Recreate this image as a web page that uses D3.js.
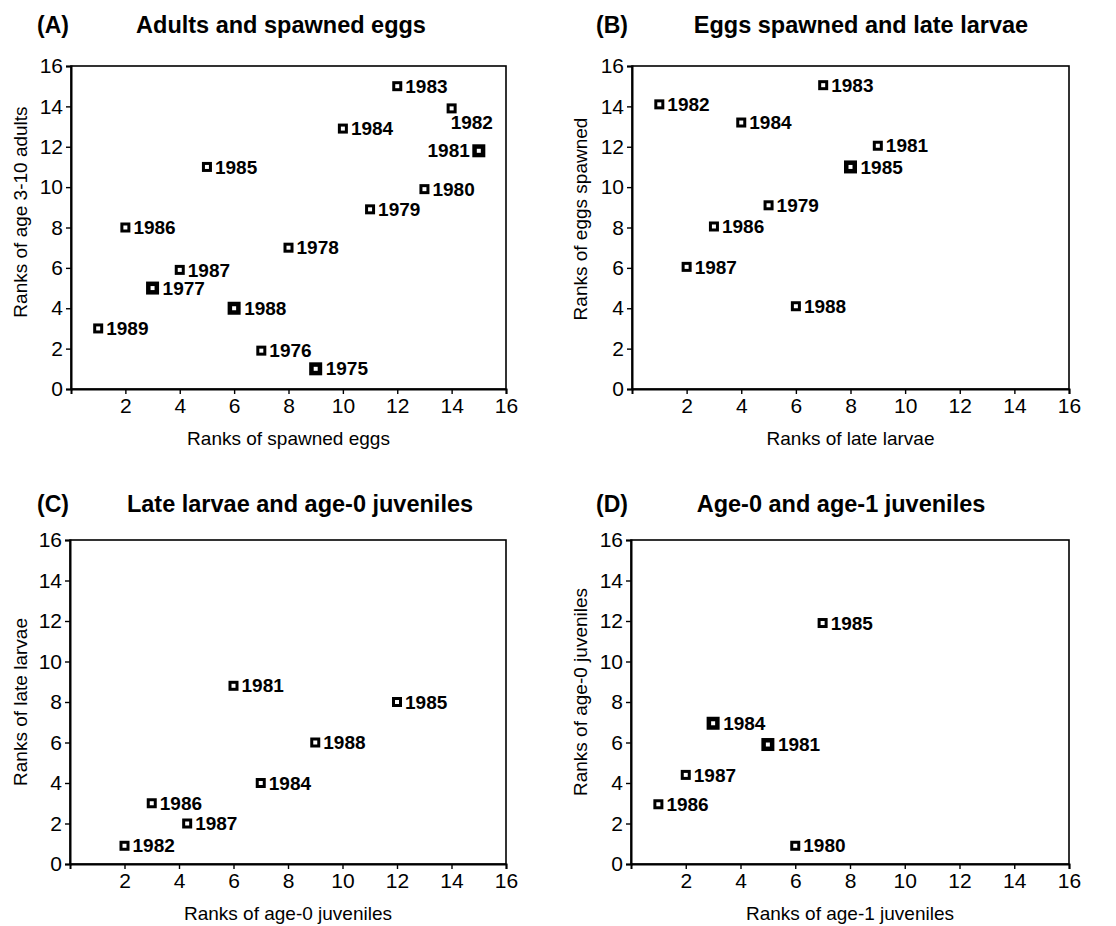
<!DOCTYPE html>
<html>
<head>
<meta charset="utf-8">
<script src="https://cdn.jsdelivr.net/npm/d3@7"></script>
<style>
  html, body { margin: 0; padding: 0; background: #fff; }
  svg { display: block; }
</style>
</head>
<body>
<svg id="chart" width="1116" height="926"></svg>
<script>
// ---------------- DATA ----------------
// Panel A: Adults and spawned eggs
const yearsA = [1983, 1982, 1984, 1981, 1985, 1980, 1979, 1986, 1978, 1987, 1977, 1988, 1989, 1976, 1975];
const xA     = [12,   14,   10,   15,   5,    13,   11,   2,    8,    4,    3,    6,    1,    7,    9];
const yA     = [15,   13.9, 12.9, 11.8, 11,   9.9,  8.9,  8,    7,    5.9,  5,    4,    3,    1.9,  1];

// Panel B: Eggs spawned and late larvae
const yearsB = [1982, 1983, 1984, 1981, 1985, 1979, 1986, 1987, 1988];
const xB     = [1,    7,    4,    9,    8,    5,    3,    2,    6];
const yB     = [14.1, 15.05, 13.2, 12.05, 11,  9.1,  8.05, 6.05, 4.1];

// Panel C: Late larvae and age-0 juveniles
const yearsC = [1981, 1985, 1988, 1984, 1986, 1987, 1982];
const xC     = [6,    12,   9,    7,    3,    4.3,  2];
const yC     = [8.8,  8,    6,    4,    3,    2,    0.9];

// Panel D: Age-0 and age-1 juveniles
const yearsD = [1985, 1984, 1981, 1987, 1986, 1980];
const xD     = [7,    3,    5,    2,    1,    6];
const yD     = [11.9, 6.95, 5.9,  4.4,  2.95, 0.9];

const yTicks = [0, 2, 4, 6, 8, 10, 12, 14, 16];
const xTicks = [2, 4, 6, 8, 10, 12, 14, 16];

const letters = ["(A)", "(B)", "(C)", "(D)"];
const titles  = ["Adults and spawned eggs", "Eggs spawned and late larvae",
                 "Late larvae and age-0 juveniles", "Age-0 and age-1 juveniles"];
const xLabels = ["Ranks of spawned eggs", "Ranks of late larvae",
                 "Ranks of age-0 juveniles", "Ranks of age-1 juveniles"];
const yLabels = ["Ranks of age 3-10 adults", "Ranks of eggs spawned",
                 "Ranks of late larvae", "Ranks of age-0 juveniles"];

// markers drawn heavier in the original
const heavy = [[1977, 1988, 1975, 1981], [1985], [], [1984, 1981]];
// label placement exceptions
const labelSide = [{1982: "below", 1981: "left"}, {}, {}, {}];

// ---------------- LAYOUT ----------------
const layout = [
  {left: 71,  right: 506,  top: 66,  bottom: 389, letterX: 37,  titleCX: 281, titleY: 33,  yLabX: 20,  yLabCY: 212},
  {left: 632, right: 1069, top: 66,  bottom: 389, letterX: 596, titleCX: 861, titleY: 33,  yLabX: 580, yLabCY: 219},
  {left: 70,  right: 506,  top: 540, bottom: 864, letterX: 37,  titleCX: 300, titleY: 512, yLabX: 20,  yLabCY: 702},
  {left: 631, right: 1069, top: 540, bottom: 864, letterX: 596, titleCX: 841, titleY: 512, yLabX: 580, yLabCY: 692}
];

const FONT = "'Liberation Sans', Arial, Helvetica, sans-serif";
const panelsData = [
  {years: yearsA, xs: xA, ys: yA},
  {years: yearsB, xs: xB, ys: yB},
  {years: yearsC, xs: xC, ys: yC},
  {years: yearsD, xs: xD, ys: yD}
];

const svg = d3.select("#chart");
svg.append("rect").attr("width", 1116).attr("height", 926).attr("fill", "#fff");

panelsData.forEach((pd, i) => {
  const L = layout[i];
  const g = svg.append("g");
  const x = d3.scaleLinear().domain([0, 16]).range([L.left, L.right]);
  const y = d3.scaleLinear().domain([0, 16]).range([L.bottom, L.top]);

  // Title
  g.append("text").attr("x", L.letterX).attr("y", L.titleY)
    .attr("font-family", FONT).attr("font-weight", "bold").attr("font-size", 23)
    .text(letters[i]);
  g.append("text").attr("x", L.titleCX).attr("y", L.titleY)
    .attr("text-anchor", "middle")
    .attr("font-family", FONT).attr("font-weight", "bold").attr("font-size", 23.5)
    .text(titles[i]);

  // Frame
  g.append("rect")
    .attr("x", L.left).attr("y", L.top)
    .attr("width", L.right - L.left).attr("height", L.bottom - L.top)
    .attr("fill", "none").attr("stroke", "#000").attr("stroke-width", 1.6);

  // Axes
  const yAxis = g.append("g").attr("transform", `translate(${L.left},0)`)
    .call(d3.axisLeft(y).tickValues(yTicks).tickSize(5).tickPadding(3).tickFormat(d3.format("d")));
  const xAxis = g.append("g").attr("transform", `translate(0,${L.bottom})`)
    .call(d3.axisBottom(x).tickValues(xTicks).tickSize(5).tickPadding(4).tickFormat(d3.format("d")));
  [yAxis, xAxis].forEach(a => {
    a.select(".domain").attr("stroke", "#000").attr("stroke-width", 2);
    a.selectAll(".tick line").attr("stroke", "#000").attr("stroke-width", 1.4);
    a.selectAll(".tick text").attr("fill", "#000")
      .attr("font-family", FONT).attr("font-size", 21);
  });

  // Axis labels
  g.append("text")
    .attr("x", (L.left + L.right) / 2).attr("y", L.bottom + 56)
    .attr("text-anchor", "middle")
    .attr("font-family", FONT).attr("font-size", 19)
    .text(xLabels[i]);
  g.append("text")
    .attr("transform", `translate(${L.yLabX},${L.yLabCY}) rotate(-90)`)
    .attr("text-anchor", "middle").attr("dy", "0.35em")
    .attr("font-family", FONT).attr("font-size", 19)
    .text(yLabels[i]);

  // Points
  const pts = pd.years.map((yr, k) => ({year: yr, xv: pd.xs[k], yv: pd.ys[k], heavy: heavy[i].includes(yr)}));
  g.selectAll("rect.pt").data(pts).enter().append("rect")
    .attr("class", "pt")
    .attr("x", d => x(d.xv) - (d.heavy ? 4.25 : 3.5))
    .attr("y", d => y(d.yv) - (d.heavy ? 4.25 : 3.5))
    .attr("width", d => d.heavy ? 8.5 : 7)
    .attr("height", d => d.heavy ? 8.5 : 7)
    .attr("fill", "#fff").attr("stroke", "#000")
    .attr("stroke-width", d => d.heavy ? 4.5 : 3);

  g.selectAll("text.lbl").data(pts).enter().append("text")
    .attr("class", "lbl")
    .attr("font-family", FONT).attr("font-weight", "bold").attr("font-size", 19)
    .attr("dy", "0.35em")
    .attr("text-anchor", d => labelSide[i][d.year] === "left" ? "end" : "start")
    .attr("x", d => {
      const side = labelSide[i][d.year];
      if (side === "left") return x(d.xv) - 9;
      if (side === "below") return x(d.xv) - 1;
      return x(d.xv) + (d.heavy ? 10 : 8);
    })
    .attr("y", d => labelSide[i][d.year] === "below" ? y(d.yv) + 14 : y(d.yv))
    .text(d => d.year);
});
</script>
</body>
</html>
